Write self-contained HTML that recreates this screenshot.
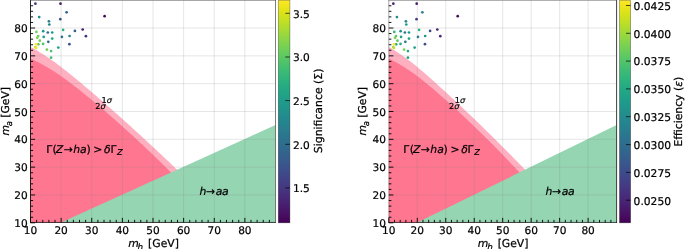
<!DOCTYPE html>
<html><head><meta charset="utf-8"><title>plot</title><style>html,body{margin:0;padding:0;background:#fff}svg{display:block}svg text{text-rendering:geometricPrecision;stroke:#000;stroke-width:0.22px;stroke-linejoin:round}</style></head><body>
<svg width="685" height="249" viewBox="0 0 685 249" font-family="DejaVu Sans, Liberation Sans, sans-serif" font-size="10.8" fill="#000">
<rect width="685" height="249" fill="#fff"/>
<defs>
<linearGradient id="vg0" x1="0" y1="0" x2="0" y2="1"><stop offset="0.000" stop-color="#fde725"/><stop offset="0.031" stop-color="#ece51b"/><stop offset="0.062" stop-color="#d8e219"/><stop offset="0.094" stop-color="#c2df23"/><stop offset="0.125" stop-color="#addc30"/><stop offset="0.156" stop-color="#98d83e"/><stop offset="0.188" stop-color="#84d44b"/><stop offset="0.219" stop-color="#70cf57"/><stop offset="0.250" stop-color="#5ec962"/><stop offset="0.281" stop-color="#4ec36b"/><stop offset="0.312" stop-color="#3fbc73"/><stop offset="0.344" stop-color="#32b67a"/><stop offset="0.375" stop-color="#28ae80"/><stop offset="0.406" stop-color="#22a785"/><stop offset="0.438" stop-color="#1fa088"/><stop offset="0.469" stop-color="#1f988b"/><stop offset="0.500" stop-color="#21918c"/><stop offset="0.531" stop-color="#23898e"/><stop offset="0.562" stop-color="#26828e"/><stop offset="0.594" stop-color="#297a8e"/><stop offset="0.625" stop-color="#2c728e"/><stop offset="0.656" stop-color="#2f6b8e"/><stop offset="0.688" stop-color="#33638d"/><stop offset="0.719" stop-color="#375b8d"/><stop offset="0.750" stop-color="#3b528b"/><stop offset="0.781" stop-color="#3e4989"/><stop offset="0.812" stop-color="#424086"/><stop offset="0.844" stop-color="#453781"/><stop offset="0.875" stop-color="#472d7b"/><stop offset="0.906" stop-color="#482374"/><stop offset="0.938" stop-color="#48186a"/><stop offset="0.969" stop-color="#470d60"/><stop offset="1.000" stop-color="#440154"/></linearGradient>
<linearGradient id="vg1" x1="0" y1="0" x2="0" y2="1"><stop offset="0.000" stop-color="#fde725"/><stop offset="0.031" stop-color="#ece51b"/><stop offset="0.062" stop-color="#d8e219"/><stop offset="0.094" stop-color="#c2df23"/><stop offset="0.125" stop-color="#addc30"/><stop offset="0.156" stop-color="#98d83e"/><stop offset="0.188" stop-color="#84d44b"/><stop offset="0.219" stop-color="#70cf57"/><stop offset="0.250" stop-color="#5ec962"/><stop offset="0.281" stop-color="#4ec36b"/><stop offset="0.312" stop-color="#3fbc73"/><stop offset="0.344" stop-color="#32b67a"/><stop offset="0.375" stop-color="#28ae80"/><stop offset="0.406" stop-color="#22a785"/><stop offset="0.438" stop-color="#1fa088"/><stop offset="0.469" stop-color="#1f988b"/><stop offset="0.500" stop-color="#21918c"/><stop offset="0.531" stop-color="#23898e"/><stop offset="0.562" stop-color="#26828e"/><stop offset="0.594" stop-color="#297a8e"/><stop offset="0.625" stop-color="#2c728e"/><stop offset="0.656" stop-color="#2f6b8e"/><stop offset="0.688" stop-color="#33638d"/><stop offset="0.719" stop-color="#375b8d"/><stop offset="0.750" stop-color="#3b528b"/><stop offset="0.781" stop-color="#3e4989"/><stop offset="0.812" stop-color="#424086"/><stop offset="0.844" stop-color="#453781"/><stop offset="0.875" stop-color="#472d7b"/><stop offset="0.906" stop-color="#482374"/><stop offset="0.938" stop-color="#48186a"/><stop offset="0.969" stop-color="#470d60"/><stop offset="1.000" stop-color="#440154"/></linearGradient>
</defs>
<g>
<clipPath id="cp0"><rect x="30.5" y="0.2" width="245.0" height="222.60000000000002"/></clipPath>
<g clip-path="url(#cp0)">
<polygon points="30.50,222.80 30.50,46.96 32.03,47.77 33.56,48.61 35.09,49.47 36.62,50.35 38.16,51.26 39.69,52.18 41.22,53.13 42.75,54.09 44.28,55.07 45.81,56.07 47.34,57.08 48.88,58.11 50.41,59.15 51.94,60.20 53.47,61.27 55.00,62.35 56.53,63.48 58.06,64.64 59.59,65.81 61.12,67.00 62.66,68.19 64.19,69.39 65.72,70.60 67.25,71.81 68.78,73.04 70.31,74.27 71.84,75.50 73.38,76.75 74.91,78.00 76.44,79.26 77.97,80.52 79.50,81.79 81.03,83.06 82.56,84.34 84.09,85.63 85.62,86.91 87.16,88.21 88.69,89.50 90.22,90.81 91.75,92.11 93.28,93.42 94.81,94.74 96.34,96.06 97.88,97.38 99.41,98.70 100.94,100.03 102.47,101.36 104.00,102.70 105.53,104.04 107.06,105.38 108.59,106.72 110.12,108.07 111.66,109.42 113.19,110.78 114.72,112.13 116.25,113.49 117.78,114.86 119.31,116.22 120.84,117.59 122.38,118.96 123.91,120.33 125.44,121.71 126.97,123.09 128.50,124.47 130.03,125.85 131.56,127.24 133.09,128.63 134.62,130.02 136.16,131.41 137.69,132.81 139.22,134.21 140.75,135.61 142.28,137.02 143.81,138.42 145.34,139.84 146.88,141.25 148.41,142.66 149.94,144.08 151.47,145.51 153.00,146.93 154.53,148.36 156.06,149.79 157.59,151.22 159.12,152.66 160.66,154.10 162.19,155.55 163.72,157.00 165.25,158.45 166.78,159.90 168.31,161.36 169.84,162.83 171.38,164.30 172.91,165.77 174.44,167.25 175.97,168.73 177.50,170.22 179.03,171.71 180.56,173.21 180.56,222.80" fill="#ffb0c0"/>
<polygon points="30.50,222.80 30.50,58.51 32.03,59.19 33.56,59.90 35.09,60.64 36.62,61.40 38.16,62.18 39.69,62.98 41.22,63.81 42.75,64.66 44.28,65.52 45.81,66.41 47.34,67.31 48.88,68.23 50.41,69.17 51.94,70.12 53.47,71.09 55.00,72.07 56.53,73.07 58.06,74.08 59.59,75.11 61.12,76.14 62.66,77.20 64.19,78.31 65.72,79.44 67.25,80.58 68.78,81.73 70.31,82.89 71.84,84.05 73.38,85.23 74.91,86.42 76.44,87.61 77.97,88.82 79.50,90.03 81.03,91.24 82.56,92.47 84.09,93.70 85.62,94.94 87.16,96.19 88.69,97.44 90.22,98.70 91.75,99.97 93.28,101.24 94.81,102.52 96.34,103.81 97.88,105.10 99.41,106.39 100.94,107.69 102.47,109.00 104.00,110.31 105.53,111.62 107.06,112.95 108.59,114.27 110.12,115.60 111.66,116.94 113.19,118.28 114.72,119.62 116.25,120.97 117.78,122.33 119.31,123.69 120.84,125.05 122.38,126.42 123.91,127.79 125.44,129.17 126.97,130.55 128.50,131.94 130.03,133.33 131.56,134.72 133.09,136.12 134.62,137.52 136.16,138.93 137.69,140.35 139.22,141.77 140.75,143.19 142.28,144.62 143.81,146.05 145.34,147.49 146.88,148.93 148.41,150.38 149.94,151.83 151.47,153.29 153.00,154.76 154.53,156.23 156.06,157.71 157.59,159.19 159.12,160.68 160.66,162.18 162.19,163.68 163.72,165.19 165.25,166.71 166.78,168.24 168.31,169.77 169.84,171.32 171.38,172.87 172.91,174.43 174.44,176.01 174.44,222.80" fill="#ff7690"/>
<polygon points="60.52,222.80 275.50,124.91 275.50,222.80" fill="#95d5b2"/>
<line x1="61.12" x2="61.12" y1="0.2" y2="222.8" stroke="#808080" stroke-opacity="0.22" stroke-width="0.9"/>
<line y1="194.98" y2="194.98" x1="30.5" x2="275.5" stroke="#808080" stroke-opacity="0.22" stroke-width="0.9"/>
<line x1="91.75" x2="91.75" y1="0.2" y2="222.8" stroke="#808080" stroke-opacity="0.22" stroke-width="0.9"/>
<line y1="167.15" y2="167.15" x1="30.5" x2="275.5" stroke="#808080" stroke-opacity="0.22" stroke-width="0.9"/>
<line x1="122.38" x2="122.38" y1="0.2" y2="222.8" stroke="#808080" stroke-opacity="0.22" stroke-width="0.9"/>
<line y1="139.32" y2="139.32" x1="30.5" x2="275.5" stroke="#808080" stroke-opacity="0.22" stroke-width="0.9"/>
<line x1="153.00" x2="153.00" y1="0.2" y2="222.8" stroke="#808080" stroke-opacity="0.22" stroke-width="0.9"/>
<line y1="111.50" y2="111.50" x1="30.5" x2="275.5" stroke="#808080" stroke-opacity="0.22" stroke-width="0.9"/>
<line x1="183.62" x2="183.62" y1="0.2" y2="222.8" stroke="#808080" stroke-opacity="0.22" stroke-width="0.9"/>
<line y1="83.68" y2="83.68" x1="30.5" x2="275.5" stroke="#808080" stroke-opacity="0.22" stroke-width="0.9"/>
<line x1="214.25" x2="214.25" y1="0.2" y2="222.8" stroke="#808080" stroke-opacity="0.22" stroke-width="0.9"/>
<line y1="55.85" y2="55.85" x1="30.5" x2="275.5" stroke="#808080" stroke-opacity="0.22" stroke-width="0.9"/>
<line x1="244.88" x2="244.88" y1="0.2" y2="222.8" stroke="#808080" stroke-opacity="0.22" stroke-width="0.9"/>
<line y1="28.02" y2="28.02" x1="30.5" x2="275.5" stroke="#808080" stroke-opacity="0.22" stroke-width="0.9"/>
<circle cx="35.40" cy="3.70" r="1.35" fill="#463480"/>
<circle cx="60.50" cy="3.70" r="1.35" fill="#471365"/>
<circle cx="66.60" cy="12.30" r="1.35" fill="#32648e"/>
<circle cx="39.20" cy="17.10" r="1.35" fill="#228b8d"/>
<circle cx="60.30" cy="19.20" r="1.35" fill="#3b528b"/>
<circle cx="48.90" cy="21.30" r="1.35" fill="#27808e"/>
<circle cx="49.30" cy="24.50" r="1.35" fill="#25848e"/>
<circle cx="63.10" cy="29.90" r="1.35" fill="#2fb47c"/>
<circle cx="36.40" cy="31.90" r="1.35" fill="#6ece58"/>
<circle cx="43.20" cy="31.20" r="1.35" fill="#1f978b"/>
<circle cx="47.80" cy="32.50" r="1.35" fill="#2e6f8e"/>
<circle cx="52.20" cy="32.50" r="1.35" fill="#1f958b"/>
<circle cx="38.20" cy="36.10" r="1.35" fill="#6ece58"/>
<circle cx="37.20" cy="37.80" r="1.35" fill="#7ad151"/>
<circle cx="43.70" cy="36.90" r="1.35" fill="#1e9c89"/>
<circle cx="52.20" cy="38.60" r="1.35" fill="#22a884"/>
<circle cx="61.90" cy="36.90" r="1.35" fill="#2c738e"/>
<circle cx="69.60" cy="36.00" r="1.35" fill="#23898e"/>
<circle cx="39.80" cy="40.70" r="1.35" fill="#6ece58"/>
<circle cx="48.30" cy="41.80" r="1.35" fill="#31678e"/>
<circle cx="38.40" cy="44.30" r="1.35" fill="#5ec962"/>
<circle cx="36.10" cy="44.30" r="1.35" fill="#fde725"/>
<circle cx="43.10" cy="43.90" r="1.35" fill="#4ec36b"/>
<circle cx="69.40" cy="44.20" r="1.35" fill="#3b528b"/>
<circle cx="35.30" cy="47.10" r="1.35" fill="#cae11f"/>
<circle cx="36.10" cy="48.00" r="1.35" fill="#f1e51d"/>
<circle cx="58.30" cy="47.60" r="1.35" fill="#22a884"/>
<circle cx="46.90" cy="49.60" r="1.35" fill="#6ece58"/>
<circle cx="51.10" cy="51.10" r="1.35" fill="#4ec36b"/>
<circle cx="51.10" cy="57.70" r="1.35" fill="#44bf70"/>
<circle cx="104.60" cy="16.20" r="1.35" fill="#46085c"/>
<circle cx="82.70" cy="29.50" r="1.35" fill="#481769"/>
<circle cx="74.90" cy="30.90" r="1.35" fill="#355f8d"/>
<circle cx="85.90" cy="36.20" r="1.35" fill="#46307e"/>
</g>
<path d="M30.50 222.45000000000002 v-4.6 M30.5 222.80 h4.6 M36.62 222.45000000000002 v-2.6 M30.5 217.24 h2.6 M42.75 222.45000000000002 v-2.6 M30.5 211.67 h2.6 M48.88 222.45000000000002 v-2.6 M30.5 206.11 h2.6 M55.00 222.45000000000002 v-2.6 M30.5 200.54 h2.6 M61.12 222.45000000000002 v-4.6 M30.5 194.98 h4.6 M67.25 222.45000000000002 v-2.6 M30.5 189.41 h2.6 M73.38 222.45000000000002 v-2.6 M30.5 183.85 h2.6 M79.50 222.45000000000002 v-2.6 M30.5 178.28 h2.6 M85.62 222.45000000000002 v-2.6 M30.5 172.72 h2.6 M91.75 222.45000000000002 v-4.6 M30.5 167.15 h4.6 M97.88 222.45000000000002 v-2.6 M30.5 161.59 h2.6 M104.00 222.45000000000002 v-2.6 M30.5 156.02 h2.6 M110.12 222.45000000000002 v-2.6 M30.5 150.45 h2.6 M116.25 222.45000000000002 v-2.6 M30.5 144.89 h2.6 M122.38 222.45000000000002 v-4.6 M30.5 139.32 h4.6 M128.50 222.45000000000002 v-2.6 M30.5 133.76 h2.6 M134.62 222.45000000000002 v-2.6 M30.5 128.19 h2.6 M140.75 222.45000000000002 v-2.6 M30.5 122.63 h2.6 M146.88 222.45000000000002 v-2.6 M30.5 117.07 h2.6 M153.00 222.45000000000002 v-4.6 M30.5 111.50 h4.6 M159.12 222.45000000000002 v-2.6 M30.5 105.93 h2.6 M165.25 222.45000000000002 v-2.6 M30.5 100.37 h2.6 M171.38 222.45000000000002 v-2.6 M30.5 94.81 h2.6 M177.50 222.45000000000002 v-2.6 M30.5 89.24 h2.6 M183.62 222.45000000000002 v-4.6 M30.5 83.68 h4.6 M189.75 222.45000000000002 v-2.6 M30.5 78.11 h2.6 M195.88 222.45000000000002 v-2.6 M30.5 72.54 h2.6 M202.00 222.45000000000002 v-2.6 M30.5 66.98 h2.6 M208.12 222.45000000000002 v-2.6 M30.5 61.41 h2.6 M214.25 222.45000000000002 v-4.6 M30.5 55.85 h4.6 M220.38 222.45000000000002 v-2.6 M30.5 50.28 h2.6 M226.50 222.45000000000002 v-2.6 M30.5 44.72 h2.6 M232.62 222.45000000000002 v-2.6 M30.5 39.16 h2.6 M238.75 222.45000000000002 v-2.6 M30.5 33.59 h2.6 M244.88 222.45000000000002 v-4.6 M30.5 28.02 h4.6 M251.00 222.45000000000002 v-2.6 M30.5 22.46 h2.6 M257.12 222.45000000000002 v-2.6 M30.5 16.89 h2.6 M263.25 222.45000000000002 v-2.6 M30.5 11.33 h2.6 M269.38 222.45000000000002 v-2.6 M30.5 5.76 h2.6" stroke="#000" stroke-width="0.92" fill="none"/>
<line x1="30.5" x2="30.5" y1="0.2" y2="222.85000000000002" stroke="#000" stroke-opacity="0.95" stroke-width="0.9"/>
<line x1="30.1" x2="275.9" y1="222.45000000000002" y2="222.45000000000002" stroke="#000" stroke-opacity="0.9" stroke-width="0.8"/>
<line x1="275.5" x2="275.5" y1="0.2" y2="222.85000000000002" stroke="#000" stroke-opacity="0.5" stroke-width="1"/>
<line x1="30.1" x2="275.9" y1="0.2" y2="0.2" stroke="#000" stroke-opacity="0.5" stroke-width="1"/>
<text x="30.50" y="233.90" text-anchor="middle" font-size="10.55">10</text>
<text x="27.60" y="226.90" text-anchor="end" font-size="10.55">10</text>
<text x="61.12" y="233.90" text-anchor="middle" font-size="10.55">20</text>
<text x="27.60" y="199.08" text-anchor="end" font-size="10.55">20</text>
<text x="91.75" y="233.90" text-anchor="middle" font-size="10.55">30</text>
<text x="27.60" y="171.25" text-anchor="end" font-size="10.55">30</text>
<text x="122.38" y="233.90" text-anchor="middle" font-size="10.55">40</text>
<text x="27.60" y="143.42" text-anchor="end" font-size="10.55">40</text>
<text x="153.00" y="233.90" text-anchor="middle" font-size="10.55">50</text>
<text x="27.60" y="115.60" text-anchor="end" font-size="10.55">50</text>
<text x="183.62" y="233.90" text-anchor="middle" font-size="10.55">60</text>
<text x="27.60" y="87.78" text-anchor="end" font-size="10.55">60</text>
<text x="214.25" y="233.90" text-anchor="middle" font-size="10.55">70</text>
<text x="27.60" y="59.95" text-anchor="end" font-size="10.55">70</text>
<text x="244.88" y="233.90" text-anchor="middle" font-size="10.55">80</text>
<text x="27.60" y="32.12" text-anchor="end" font-size="10.55">80</text>
<text y="247.0"><tspan x="128.20" y="247.0" font-style="italic">m</tspan><tspan x="137.60" y="250" font-style="italic" font-size="8.8">h</tspan><tspan x="144.67" y="247.0"> [GeV]</tspan></text>
<g transform="translate(8.80,135.60) rotate(-90)">
<text y="0"><tspan x="0.00" y="0" font-style="italic">m</tspan><tspan x="9.30" y="3.0" font-style="italic" font-size="8.5">a</tspan><tspan x="14.37" y="0"> [GeV]</tspan></text>
</g>
<text y="152.5"><tspan x="46.20" y="152.5">Γ</tspan><tspan x="52.50" y="152.5">(</tspan><tspan x="55.80" y="152.5" font-style="italic">Z</tspan><tspan x="63.70" y="152.5">→</tspan><tspan x="73.20" y="152.5" font-style="italic">h</tspan><tspan x="80.10" y="152.5" font-style="italic">a</tspan><tspan x="86.40" y="152.5">)</tspan><tspan x="89.87" y="152.5"> &gt;</tspan><tspan x="100.67" y="152.5" font-style="italic"> δ</tspan><tspan x="110.40" y="152.5">Γ</tspan><tspan x="117.10" y="154.5" font-style="italic" font-size="8.2">Z</tspan></text>
<text y="194.8"><tspan x="199.60" y="194.8" font-style="italic">h</tspan><tspan x="206.10" y="194.8">→</tspan><tspan x="215.80" y="194.8" font-style="italic">a</tspan><tspan x="222.10" y="194.8" font-style="italic">a</tspan></text>
<text x="101.50" y="102.9" font-size="8.2">1<tspan font-style="italic">σ</tspan></text>
<text x="95.30" y="108.5" font-size="8.2">2<tspan font-style="italic">σ</tspan></text>
<rect x="278.3" y="0.2" width="11.599999999999966" height="222.60000000000002" fill="url(#vg0)" stroke="#000" stroke-opacity="0.42" stroke-width="0.7"/>
<line x1="285.29999999999995" x2="289.9" y1="13.3" y2="13.3" stroke="#000" stroke-width="0.7"/>
<text x="293.0" y="17.60" font-size="10.6">3.5</text>
<line x1="285.29999999999995" x2="289.9" y1="57.0" y2="57.0" stroke="#000" stroke-width="0.7"/>
<text x="293.0" y="61.30" font-size="10.6">3.0</text>
<line x1="285.29999999999995" x2="289.9" y1="100.6" y2="100.6" stroke="#000" stroke-width="0.7"/>
<text x="293.0" y="104.90" font-size="10.6">2.5</text>
<line x1="285.29999999999995" x2="289.9" y1="144.3" y2="144.3" stroke="#000" stroke-width="0.7"/>
<text x="293.0" y="148.60" font-size="10.6">2.0</text>
<line x1="285.29999999999995" x2="289.9" y1="187.9" y2="187.9" stroke="#000" stroke-width="0.7"/>
<text x="293.0" y="192.20" font-size="10.6">1.5</text>
</g>
<g>
<clipPath id="cp1"><rect x="388.8" y="0.2" width="227.8" height="222.60000000000002"/></clipPath>
<g clip-path="url(#cp1)">
<polygon points="388.80,222.80 388.80,46.96 390.22,47.77 391.65,48.61 393.07,49.47 394.50,50.35 395.92,51.26 397.34,52.18 398.77,53.13 400.19,54.09 401.61,55.07 403.04,56.07 404.46,57.08 405.88,58.11 407.31,59.15 408.73,60.20 410.16,61.27 411.58,62.35 413.00,63.48 414.43,64.64 415.85,65.81 417.28,67.00 418.70,68.19 420.12,69.39 421.55,70.60 422.97,71.81 424.39,73.04 425.82,74.27 427.24,75.50 428.67,76.75 430.09,78.00 431.51,79.26 432.94,80.52 434.36,81.79 435.78,83.06 437.21,84.34 438.63,85.63 440.06,86.91 441.48,88.21 442.90,89.50 444.33,90.81 445.75,92.11 447.17,93.42 448.60,94.74 450.02,96.06 451.45,97.38 452.87,98.70 454.29,100.03 455.72,101.36 457.14,102.70 458.56,104.04 459.99,105.38 461.41,106.72 462.84,108.07 464.26,109.42 465.68,110.78 467.11,112.13 468.53,113.49 469.95,114.86 471.38,116.22 472.80,117.59 474.23,118.96 475.65,120.33 477.07,121.71 478.50,123.09 479.92,124.47 481.34,125.85 482.77,127.24 484.19,128.63 485.62,130.02 487.04,131.41 488.46,132.81 489.89,134.21 491.31,135.61 492.73,137.02 494.16,138.42 495.58,139.84 497.00,141.25 498.43,142.66 499.85,144.08 501.28,145.51 502.70,146.93 504.12,148.36 505.55,149.79 506.97,151.22 508.40,152.66 509.82,154.10 511.24,155.55 512.67,157.00 514.09,158.45 515.51,159.90 516.94,161.36 518.36,162.83 519.78,164.30 521.21,165.77 522.63,167.25 524.06,168.73 525.48,170.22 526.90,171.71 528.33,173.21 528.33,222.80" fill="#ffb0c0"/>
<polygon points="388.80,222.80 388.80,58.51 390.22,59.19 391.65,59.90 393.07,60.64 394.50,61.40 395.92,62.18 397.34,62.98 398.77,63.81 400.19,64.66 401.61,65.52 403.04,66.41 404.46,67.31 405.88,68.23 407.31,69.17 408.73,70.12 410.16,71.09 411.58,72.07 413.00,73.07 414.43,74.08 415.85,75.11 417.28,76.14 418.70,77.20 420.12,78.31 421.55,79.44 422.97,80.58 424.39,81.73 425.82,82.89 427.24,84.05 428.67,85.23 430.09,86.42 431.51,87.61 432.94,88.82 434.36,90.03 435.78,91.24 437.21,92.47 438.63,93.70 440.06,94.94 441.48,96.19 442.90,97.44 444.33,98.70 445.75,99.97 447.17,101.24 448.60,102.52 450.02,103.81 451.45,105.10 452.87,106.39 454.29,107.69 455.72,109.00 457.14,110.31 458.56,111.62 459.99,112.95 461.41,114.27 462.84,115.60 464.26,116.94 465.68,118.28 467.11,119.62 468.53,120.97 469.95,122.33 471.38,123.69 472.80,125.05 474.23,126.42 475.65,127.79 477.07,129.17 478.50,130.55 479.92,131.94 481.34,133.33 482.77,134.72 484.19,136.12 485.62,137.52 487.04,138.93 488.46,140.35 489.89,141.77 491.31,143.19 492.73,144.62 494.16,146.05 495.58,147.49 497.00,148.93 498.43,150.38 499.85,151.83 501.28,153.29 502.70,154.76 504.12,156.23 505.55,157.71 506.97,159.19 508.40,160.68 509.82,162.18 511.24,163.68 512.67,165.19 514.09,166.71 515.51,168.24 516.94,169.77 518.36,171.32 519.78,172.87 521.21,174.43 522.63,176.01 522.63,222.80" fill="#ff7690"/>
<polygon points="416.68,222.80 616.60,124.91 616.60,222.80" fill="#95d5b2"/>
<line x1="417.28" x2="417.28" y1="0.2" y2="222.8" stroke="#808080" stroke-opacity="0.22" stroke-width="0.9"/>
<line y1="194.98" y2="194.98" x1="388.8" x2="616.6" stroke="#808080" stroke-opacity="0.22" stroke-width="0.9"/>
<line x1="445.75" x2="445.75" y1="0.2" y2="222.8" stroke="#808080" stroke-opacity="0.22" stroke-width="0.9"/>
<line y1="167.15" y2="167.15" x1="388.8" x2="616.6" stroke="#808080" stroke-opacity="0.22" stroke-width="0.9"/>
<line x1="474.23" x2="474.23" y1="0.2" y2="222.8" stroke="#808080" stroke-opacity="0.22" stroke-width="0.9"/>
<line y1="139.32" y2="139.32" x1="388.8" x2="616.6" stroke="#808080" stroke-opacity="0.22" stroke-width="0.9"/>
<line x1="502.70" x2="502.70" y1="0.2" y2="222.8" stroke="#808080" stroke-opacity="0.22" stroke-width="0.9"/>
<line y1="111.50" y2="111.50" x1="388.8" x2="616.6" stroke="#808080" stroke-opacity="0.22" stroke-width="0.9"/>
<line x1="531.17" x2="531.17" y1="0.2" y2="222.8" stroke="#808080" stroke-opacity="0.22" stroke-width="0.9"/>
<line y1="83.68" y2="83.68" x1="388.8" x2="616.6" stroke="#808080" stroke-opacity="0.22" stroke-width="0.9"/>
<line x1="559.65" x2="559.65" y1="0.2" y2="222.8" stroke="#808080" stroke-opacity="0.22" stroke-width="0.9"/>
<line y1="55.85" y2="55.85" x1="388.8" x2="616.6" stroke="#808080" stroke-opacity="0.22" stroke-width="0.9"/>
<line x1="588.12" x2="588.12" y1="0.2" y2="222.8" stroke="#808080" stroke-opacity="0.22" stroke-width="0.9"/>
<line y1="28.02" y2="28.02" x1="388.8" x2="616.6" stroke="#808080" stroke-opacity="0.22" stroke-width="0.9"/>
<circle cx="393.36" cy="3.70" r="1.35" fill="#482475"/>
<circle cx="416.69" cy="3.70" r="1.35" fill="#481a6c"/>
<circle cx="422.37" cy="12.30" r="1.35" fill="#287d8e"/>
<circle cx="396.89" cy="17.10" r="1.35" fill="#228b8d"/>
<circle cx="416.51" cy="19.20" r="1.35" fill="#433e85"/>
<circle cx="405.91" cy="21.30" r="1.35" fill="#24868e"/>
<circle cx="406.28" cy="24.50" r="1.35" fill="#1e9c89"/>
<circle cx="419.11" cy="29.90" r="1.35" fill="#2fb47c"/>
<circle cx="394.29" cy="31.90" r="1.35" fill="#37b878"/>
<circle cx="400.61" cy="31.20" r="1.35" fill="#21918c"/>
<circle cx="404.89" cy="32.50" r="1.35" fill="#2a788e"/>
<circle cx="408.98" cy="32.50" r="1.35" fill="#1e9c89"/>
<circle cx="395.96" cy="36.10" r="1.35" fill="#58c765"/>
<circle cx="395.03" cy="37.80" r="1.35" fill="#7ad151"/>
<circle cx="401.07" cy="36.90" r="1.35" fill="#20a386"/>
<circle cx="408.98" cy="38.60" r="1.35" fill="#20a386"/>
<circle cx="418.00" cy="36.90" r="1.35" fill="#287d8e"/>
<circle cx="425.16" cy="36.00" r="1.35" fill="#1f9a8a"/>
<circle cx="397.45" cy="40.70" r="1.35" fill="#5ec962"/>
<circle cx="405.35" cy="41.80" r="1.35" fill="#2a788e"/>
<circle cx="396.15" cy="44.30" r="1.35" fill="#22a884"/>
<circle cx="394.01" cy="44.30" r="1.35" fill="#fde725"/>
<circle cx="400.52" cy="43.90" r="1.35" fill="#26ad81"/>
<circle cx="424.97" cy="44.20" r="1.35" fill="#3c4f8a"/>
<circle cx="393.26" cy="47.10" r="1.35" fill="#9bd93c"/>
<circle cx="394.01" cy="48.00" r="1.35" fill="#bddf26"/>
<circle cx="414.65" cy="47.60" r="1.35" fill="#20a386"/>
<circle cx="404.05" cy="49.60" r="1.35" fill="#7ad151"/>
<circle cx="407.95" cy="51.10" r="1.35" fill="#22a884"/>
<circle cx="407.95" cy="57.70" r="1.35" fill="#20a386"/>
<circle cx="457.70" cy="16.20" r="1.35" fill="#460b5e"/>
<circle cx="437.34" cy="29.50" r="1.35" fill="#482475"/>
<circle cx="430.08" cy="30.90" r="1.35" fill="#3e4989"/>
<circle cx="440.31" cy="36.20" r="1.35" fill="#472a7a"/>
</g>
<path d="M388.80 222.45000000000002 v-4.6 M388.8 222.80 h4.6 M394.50 222.45000000000002 v-2.6 M388.8 217.24 h2.6 M400.19 222.45000000000002 v-2.6 M388.8 211.67 h2.6 M405.88 222.45000000000002 v-2.6 M388.8 206.11 h2.6 M411.58 222.45000000000002 v-2.6 M388.8 200.54 h2.6 M417.28 222.45000000000002 v-4.6 M388.8 194.98 h4.6 M422.97 222.45000000000002 v-2.6 M388.8 189.41 h2.6 M428.67 222.45000000000002 v-2.6 M388.8 183.85 h2.6 M434.36 222.45000000000002 v-2.6 M388.8 178.28 h2.6 M440.06 222.45000000000002 v-2.6 M388.8 172.72 h2.6 M445.75 222.45000000000002 v-4.6 M388.8 167.15 h4.6 M451.45 222.45000000000002 v-2.6 M388.8 161.59 h2.6 M457.14 222.45000000000002 v-2.6 M388.8 156.02 h2.6 M462.84 222.45000000000002 v-2.6 M388.8 150.45 h2.6 M468.53 222.45000000000002 v-2.6 M388.8 144.89 h2.6 M474.23 222.45000000000002 v-4.6 M388.8 139.32 h4.6 M479.92 222.45000000000002 v-2.6 M388.8 133.76 h2.6 M485.62 222.45000000000002 v-2.6 M388.8 128.19 h2.6 M491.31 222.45000000000002 v-2.6 M388.8 122.63 h2.6 M497.00 222.45000000000002 v-2.6 M388.8 117.07 h2.6 M502.70 222.45000000000002 v-4.6 M388.8 111.50 h4.6 M508.40 222.45000000000002 v-2.6 M388.8 105.93 h2.6 M514.09 222.45000000000002 v-2.6 M388.8 100.37 h2.6 M519.78 222.45000000000002 v-2.6 M388.8 94.81 h2.6 M525.48 222.45000000000002 v-2.6 M388.8 89.24 h2.6 M531.17 222.45000000000002 v-4.6 M388.8 83.68 h4.6 M536.87 222.45000000000002 v-2.6 M388.8 78.11 h2.6 M542.57 222.45000000000002 v-2.6 M388.8 72.54 h2.6 M548.26 222.45000000000002 v-2.6 M388.8 66.98 h2.6 M553.96 222.45000000000002 v-2.6 M388.8 61.41 h2.6 M559.65 222.45000000000002 v-4.6 M388.8 55.85 h4.6 M565.35 222.45000000000002 v-2.6 M388.8 50.28 h2.6 M571.04 222.45000000000002 v-2.6 M388.8 44.72 h2.6 M576.74 222.45000000000002 v-2.6 M388.8 39.16 h2.6 M582.43 222.45000000000002 v-2.6 M388.8 33.59 h2.6 M588.12 222.45000000000002 v-4.6 M388.8 28.02 h4.6 M593.82 222.45000000000002 v-2.6 M388.8 22.46 h2.6 M599.52 222.45000000000002 v-2.6 M388.8 16.89 h2.6 M605.21 222.45000000000002 v-2.6 M388.8 11.33 h2.6 M610.90 222.45000000000002 v-2.6 M388.8 5.76 h2.6" stroke="#000" stroke-width="0.92" fill="none"/>
<line x1="388.8" x2="388.8" y1="0.2" y2="222.85000000000002" stroke="#000" stroke-opacity="0.38" stroke-width="0.9"/>
<line x1="388.40000000000003" x2="617.0" y1="222.45000000000002" y2="222.45000000000002" stroke="#000" stroke-opacity="0.85" stroke-width="0.8"/>
<line x1="616.6" x2="616.6" y1="0.2" y2="222.85000000000002" stroke="#000" stroke-opacity="0.75" stroke-width="1"/>
<line x1="388.40000000000003" x2="617.0" y1="0.2" y2="0.2" stroke="#000" stroke-opacity="0.45" stroke-width="1"/>
<text x="388.80" y="233.90" text-anchor="middle" font-size="10.55">10</text>
<text x="385.90" y="226.90" text-anchor="end" font-size="10.55">10</text>
<text x="417.28" y="233.90" text-anchor="middle" font-size="10.55">20</text>
<text x="385.90" y="199.08" text-anchor="end" font-size="10.55">20</text>
<text x="445.75" y="233.90" text-anchor="middle" font-size="10.55">30</text>
<text x="385.90" y="171.25" text-anchor="end" font-size="10.55">30</text>
<text x="474.23" y="233.90" text-anchor="middle" font-size="10.55">40</text>
<text x="385.90" y="143.42" text-anchor="end" font-size="10.55">40</text>
<text x="502.70" y="233.90" text-anchor="middle" font-size="10.55">50</text>
<text x="385.90" y="115.60" text-anchor="end" font-size="10.55">50</text>
<text x="531.17" y="233.90" text-anchor="middle" font-size="10.55">60</text>
<text x="385.90" y="87.78" text-anchor="end" font-size="10.55">60</text>
<text x="559.65" y="233.90" text-anchor="middle" font-size="10.55">70</text>
<text x="385.90" y="59.95" text-anchor="end" font-size="10.55">70</text>
<text x="588.12" y="233.90" text-anchor="middle" font-size="10.55">80</text>
<text x="385.90" y="32.12" text-anchor="end" font-size="10.55">80</text>
<text y="247.0"><tspan x="477.75" y="247.0" font-style="italic">m</tspan><tspan x="487.15" y="250" font-style="italic" font-size="8.8">h</tspan><tspan x="494.22" y="247.0"> [GeV]</tspan></text>
<g transform="translate(366.30,135.60) rotate(-90)">
<text y="0"><tspan x="0.00" y="0" font-style="italic">m</tspan><tspan x="9.30" y="3.0" font-style="italic" font-size="8.5">a</tspan><tspan x="14.37" y="0"> [GeV]</tspan></text>
</g>
<text y="152.5"><tspan x="403.36" y="152.5">Γ</tspan><tspan x="409.66" y="152.5">(</tspan><tspan x="412.96" y="152.5" font-style="italic">Z</tspan><tspan x="420.86" y="152.5">→</tspan><tspan x="430.36" y="152.5" font-style="italic">h</tspan><tspan x="437.26" y="152.5" font-style="italic">a</tspan><tspan x="443.56" y="152.5">)</tspan><tspan x="447.02" y="152.5"> &gt;</tspan><tspan x="457.82" y="152.5" font-style="italic"> δ</tspan><tspan x="467.56" y="152.5">Γ</tspan><tspan x="474.26" y="154.5" font-style="italic" font-size="8.2">Z</tspan></text>
<text y="194.8"><tspan x="545.43" y="194.8" font-style="italic">h</tspan><tspan x="551.93" y="194.8">→</tspan><tspan x="561.63" y="194.8" font-style="italic">a</tspan><tspan x="567.93" y="194.8" font-style="italic">a</tspan></text>
<text x="454.82" y="102.9" font-size="8.2">1<tspan font-style="italic">σ</tspan></text>
<text x="449.05" y="108.5" font-size="8.2">2<tspan font-style="italic">σ</tspan></text>
<rect x="619.5" y="0.2" width="11.100000000000023" height="222.60000000000002" fill="url(#vg1)" stroke="#000" stroke-opacity="0.42" stroke-width="0.7"/>
<line x1="626.0" x2="630.6" y1="5.5" y2="5.5" stroke="#000" stroke-width="0.7"/>
<text x="633.6" y="9.80" font-size="10.7">0.0425</text>
<line x1="626.0" x2="630.6" y1="33.3" y2="33.3" stroke="#000" stroke-width="0.7"/>
<text x="633.6" y="37.60" font-size="10.7">0.0400</text>
<line x1="626.0" x2="630.6" y1="61.1" y2="61.1" stroke="#000" stroke-width="0.7"/>
<text x="633.6" y="65.40" font-size="10.7">0.0375</text>
<line x1="626.0" x2="630.6" y1="88.9" y2="88.9" stroke="#000" stroke-width="0.7"/>
<text x="633.6" y="93.20" font-size="10.7">0.0350</text>
<line x1="626.0" x2="630.6" y1="116.7" y2="116.7" stroke="#000" stroke-width="0.7"/>
<text x="633.6" y="121.00" font-size="10.7">0.0325</text>
<line x1="626.0" x2="630.6" y1="144.6" y2="144.6" stroke="#000" stroke-width="0.7"/>
<text x="633.6" y="148.90" font-size="10.7">0.0300</text>
<line x1="626.0" x2="630.6" y1="172.4" y2="172.4" stroke="#000" stroke-width="0.7"/>
<text x="633.6" y="176.70" font-size="10.7">0.0275</text>
<line x1="626.0" x2="630.6" y1="200.2" y2="200.2" stroke="#000" stroke-width="0.7"/>
<text x="633.6" y="204.50" font-size="10.7">0.0250</text>
</g>
<text transform="translate(322.1,153.2) rotate(-90)" font-size="10.88">Significance (Σ)</text>
<text transform="translate(681.5,146.5) rotate(-90)" font-size="10.8">Efficiency (<tspan font-style="italic">ε</tspan>)</text>
</svg>
</body></html>
